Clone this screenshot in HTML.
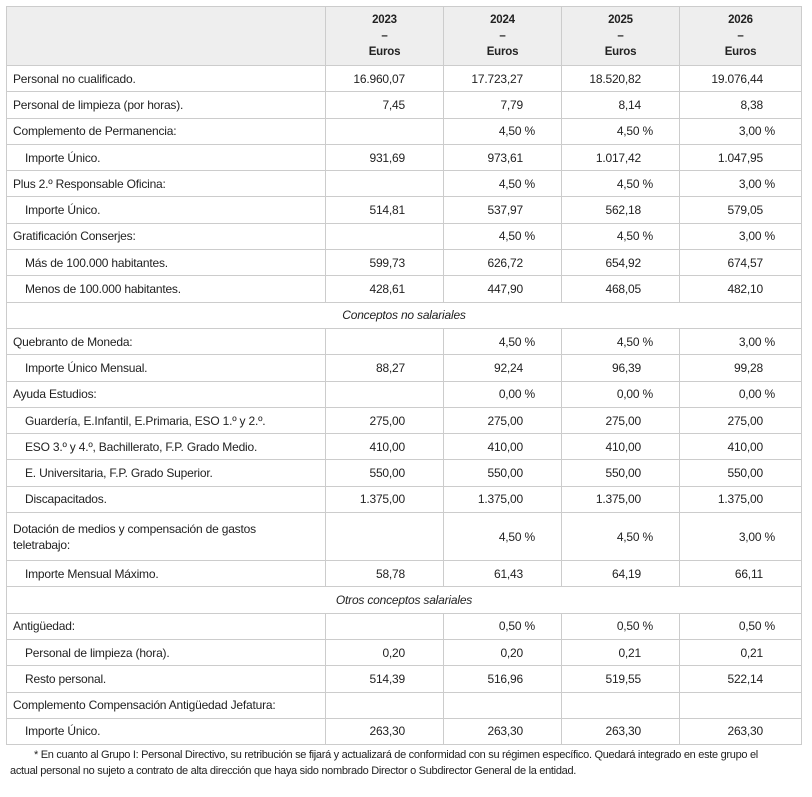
<!DOCTYPE html>
<html><head><meta charset="utf-8"><style>
body{margin:0;background:#fff;font-family:"Liberation Sans",sans-serif;font-size:12px;color:#222;letter-spacing:-0.2px}
table{position:absolute;left:6px;top:6px;border-collapse:collapse;table-layout:fixed;width:795px;}
td,th{border:1px solid #ccc;padding:0;height:25.3px;line-height:14px;}
th{background:#eee;font-weight:bold;height:58px;text-align:center;font-size:11.5px;line-height:16px}
td.l{padding-left:6px}
td.s{padding-left:18px}
td.n{text-align:right;padding-right:38px}
td.p{text-align:right;padding-right:26px}
td.c{text-align:center;font-style:italic}
.f{position:absolute;left:10px;top:747px;width:800px;font-size:11px;line-height:16px;text-indent:24px;letter-spacing:-0.3px;white-space:nowrap}
</style></head><body>
<table>
<col style="width:319px"><col style="width:118px"><col style="width:118px"><col style="width:118px"><col style="width:122px">
<tr><th></th><th>2023<br>–<br>Euros</th><th>2024<br>–<br>Euros</th><th>2025<br>–<br>Euros</th><th>2026<br>–<br>Euros</th></tr>
<tr><td class="l">Personal no cualificado.</td><td class="n">16.960,07</td><td class="n">17.723,27</td><td class="n">18.520,82</td><td class="n">19.076,44</td></tr>
<tr><td class="l">Personal de limpieza (por horas).</td><td class="n">7,45</td><td class="n">7,79</td><td class="n">8,14</td><td class="n">8,38</td></tr>
<tr><td class="l">Complemento de Permanencia:</td><td></td><td class="p">4,50 %</td><td class="p">4,50 %</td><td class="p">3,00 %</td></tr>
<tr><td class="s">Importe Único.</td><td class="n">931,69</td><td class="n">973,61</td><td class="n">1.017,42</td><td class="n">1.047,95</td></tr>
<tr><td class="l">Plus 2.º Responsable Oficina:</td><td></td><td class="p">4,50 %</td><td class="p">4,50 %</td><td class="p">3,00 %</td></tr>
<tr><td class="s">Importe Único.</td><td class="n">514,81</td><td class="n">537,97</td><td class="n">562,18</td><td class="n">579,05</td></tr>
<tr><td class="l">Gratificación Conserjes:</td><td></td><td class="p">4,50 %</td><td class="p">4,50 %</td><td class="p">3,00 %</td></tr>
<tr><td class="s">Más de 100.000 habitantes.</td><td class="n">599,73</td><td class="n">626,72</td><td class="n">654,92</td><td class="n">674,57</td></tr>
<tr><td class="s">Menos de 100.000 habitantes.</td><td class="n">428,61</td><td class="n">447,90</td><td class="n">468,05</td><td class="n">482,10</td></tr>
<tr><td class="c" colspan="5">Conceptos no salariales</td></tr>
<tr><td class="l">Quebranto de Moneda:</td><td></td><td class="p">4,50 %</td><td class="p">4,50 %</td><td class="p">3,00 %</td></tr>
<tr><td class="s">Importe Único Mensual.</td><td class="n">88,27</td><td class="n">92,24</td><td class="n">96,39</td><td class="n">99,28</td></tr>
<tr><td class="l">Ayuda Estudios:</td><td></td><td class="p">0,00 %</td><td class="p">0,00 %</td><td class="p">0,00 %</td></tr>
<tr><td class="s">Guardería, E.Infantil, E.Primaria, ESO 1.º y 2.º.</td><td class="n">275,00</td><td class="n">275,00</td><td class="n">275,00</td><td class="n">275,00</td></tr>
<tr><td class="s">ESO 3.º y 4.º, Bachillerato, F.P. Grado Medio.</td><td class="n">410,00</td><td class="n">410,00</td><td class="n">410,00</td><td class="n">410,00</td></tr>
<tr><td class="s">E. Universitaria, F.P. Grado Superior.</td><td class="n">550,00</td><td class="n">550,00</td><td class="n">550,00</td><td class="n">550,00</td></tr>
<tr><td class="s">Discapacitados.</td><td class="n">1.375,00</td><td class="n">1.375,00</td><td class="n">1.375,00</td><td class="n">1.375,00</td></tr>
<tr><td class="l" style="height:47px;line-height:16px">Dotación de medios y compensación de gastos<br>teletrabajo:</td><td></td><td class="p">4,50 %</td><td class="p">4,50 %</td><td class="p">3,00 %</td></tr>
<tr><td class="s">Importe Mensual Máximo.</td><td class="n">58,78</td><td class="n">61,43</td><td class="n">64,19</td><td class="n">66,11</td></tr>
<tr><td class="c" colspan="5">Otros conceptos salariales</td></tr>
<tr><td class="l">Antigüedad:</td><td></td><td class="p">0,50 %</td><td class="p">0,50 %</td><td class="p">0,50 %</td></tr>
<tr><td class="s">Personal de limpieza (hora).</td><td class="n">0,20</td><td class="n">0,20</td><td class="n">0,21</td><td class="n">0,21</td></tr>
<tr><td class="s">Resto personal.</td><td class="n">514,39</td><td class="n">516,96</td><td class="n">519,55</td><td class="n">522,14</td></tr>
<tr><td class="l">Complemento Compensación Antigüedad Jefatura:</td><td></td><td></td><td></td><td></td></tr>
<tr><td class="s">Importe Único.</td><td class="n">263,30</td><td class="n">263,30</td><td class="n">263,30</td><td class="n">263,30</td></tr>
</table>
<div class="f">* En cuanto al Grupo I: Personal Directivo, su retribución se fijará y actualizará de conformidad con su régimen específico. Quedará integrado en este grupo el<br>actual personal no sujeto a contrato de alta dirección que haya sido nombrado Director o Subdirector General de la entidad.</div>
</body></html>
